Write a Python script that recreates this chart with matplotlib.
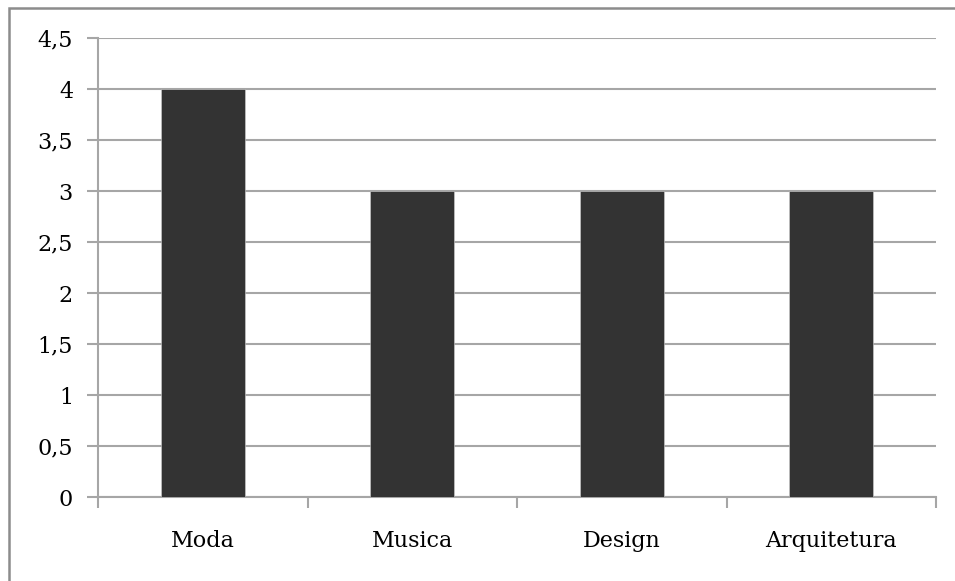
import matplotlib
matplotlib.use("Agg")
import matplotlib.pyplot as plt
from matplotlib.patches import Rectangle
from matplotlib.ticker import FixedLocator, FuncFormatter

categories = ["Moda", "Musica", "Design", "Arquitetura"]
values = [4, 3, 3, 3]
yticks = [0, 0.5, 1, 1.5, 2, 2.5, 3, 3.5, 4, 4.5]

plt.rcParams['font.family'] = ['DejaVu Serif']

fig = plt.figure(figsize=(9.55, 5.81), dpi=100)
ax = fig.add_axes([98/955, (581-497)/581, (936-98)/955, (497-38)/581])

grid_c = '#a6a6a6'
x = list(range(len(categories)))
ax.bar(x, values, width=0.4, color='#333333', zorder=3, edgecolor='#d0d0d0', linewidth=0.4)

ax.set_xlim(-0.5, len(categories) - 0.5)
ax.set_ylim(0, 4.5)
ax.set_yticks(yticks)
ax.yaxis.set_major_formatter(FuncFormatter(lambda v, p: ('%g' % v).replace('.', ',')))
ax.yaxis.grid(True, color=grid_c, linewidth=1.5, zorder=0)
ax.set_axisbelow(True)

ax.set_xticks(x)
ax.set_xticklabels(categories)
ax.xaxis.set_minor_locator(FixedLocator([i - 0.5 for i in range(len(categories) + 1)]))
ax.tick_params(axis='x', which='major', length=0, pad=24, labelsize=16)
ax.tick_params(axis='x', which='minor', length=8, width=1.5, color=grid_c)
ax.tick_params(axis='y', length=8, width=1.5, color=grid_c, pad=10, labelsize=16)

for s in ['top', 'right']:
    ax.spines[s].set_visible(False)
for s in ['left', 'bottom']:
    ax.spines[s].set_color(grid_c)
    ax.spines[s].set_linewidth(1.5)

fig.patches.append(Rectangle((9/955, -0.1), 1.2, (581-8)/581 + 0.1, transform=fig.transFigure,
                             fill=False, edgecolor='#8c8c8c', linewidth=1.8, zorder=0))

fig.savefig('out.png', dpi=100)
